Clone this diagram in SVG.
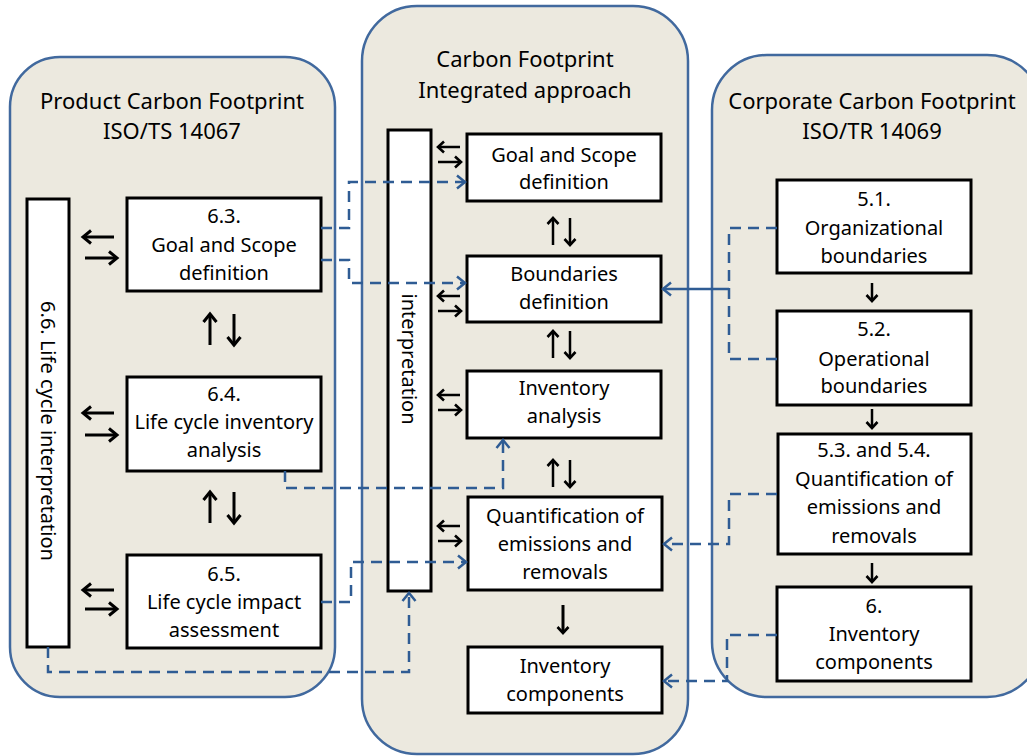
<svg xmlns="http://www.w3.org/2000/svg" width="1027" height="756" viewBox="0 0 1027 756">
<defs>
<style>
.panel{fill:#ECE9DF;stroke:#41699E;stroke-width:2.5}
.box{fill:#FFFFFF;stroke:#000000;stroke-width:3}
.t{font-family:"Noto Sans","Open Sans",sans-serif;font-size:20px;fill:#000;text-anchor:middle}
.title{font-family:"Noto Sans","Open Sans",sans-serif;font-size:22px;fill:#000;text-anchor:middle}
.dash{fill:none;stroke:#2F5C94;stroke-width:2.5;stroke-dasharray:11 7}
.solid{fill:none;stroke:#2F5C94;stroke-width:2.5}
.blk{fill:none;stroke:#000;stroke-width:3}
.blks{fill:none;stroke:#000;stroke-width:2.5}
</style>
<marker id="bh" markerUnits="userSpaceOnUse" markerWidth="14" markerHeight="16" refX="11" refY="8" orient="auto">
<path d="M3,1.5 L11,8 L3,14.5" fill="none" stroke="#2F5C94" stroke-width="2.5"/>
</marker>
<marker id="kh" markerUnits="userSpaceOnUse" markerWidth="14" markerHeight="16" refX="11" refY="8" orient="auto">
<path d="M3,1.5 L11,8 L3,14.5" fill="none" stroke="#000" stroke-width="3"/>
</marker>
<marker id="ks" markerUnits="userSpaceOnUse" markerWidth="12" markerHeight="14" refX="9" refY="7" orient="auto">
<path d="M3,1.5 L9,7 L3,12.5" fill="none" stroke="#000" stroke-width="2.6"/>
</marker>
</defs>

<g id="panel-product">
<rect class="panel" x="10" y="57" width="325" height="640" rx="50"/>
<text class="title" x="172" y="109">Product Carbon Footprint</text>
<text class="title" x="172" y="139">ISO/TS 14067</text>
</g>
<g id="panel-integrated">
<rect class="panel" x="362" y="6" width="326" height="748" rx="55"/>
<text class="title" x="525" y="67">Carbon Footprint</text>
<text class="title" x="525" y="98">Integrated approach</text>
</g>
<g id="panel-corporate">
<rect class="panel" x="712" y="55" width="330" height="642" rx="55"/>
<text class="title" x="872" y="109">Corporate Carbon Footprint</text>
<text class="title" x="872" y="139">ISO/TR 14069</text>
</g>

<g id="node-66">
<rect class="box" x="27" y="199" width="42" height="448"/>
<text class="t" transform="translate(48,431) rotate(90)" y="7">6.6. Life cycle interpretation</text>
</g>
<g id="node-63">
<rect class="box" x="127" y="198" width="194" height="93"/>
<text class="t" x="224" y="223">6.3.</text>
<text class="t" x="224" y="252">Goal and Scope</text>
<text class="t" x="224" y="280">definition</text>
</g>
<g id="node-64">
<rect class="box" x="127" y="377" width="194" height="94"/>
<text class="t" x="224" y="401">6.4.</text>
<text class="t" x="224" y="429">Life cycle inventory</text>
<text class="t" x="224" y="457">analysis</text>
</g>
<g id="node-65">
<rect class="box" x="127" y="555" width="194" height="93"/>
<text class="t" x="224" y="581">6.5.</text>
<text class="t" x="224" y="609">Life cycle impact</text>
<text class="t" x="224" y="637">assessment</text>
</g>

<g id="node-interp">
<rect class="box" x="388" y="130" width="43" height="461"/>
<text class="t" transform="translate(409,359) rotate(90)" y="7">interpretation</text>
</g>
<g id="node-goal">
<rect class="box" x="467" y="134" width="194" height="67"/>
<text class="t" x="564" y="162">Goal and Scope</text>
<text class="t" x="564" y="189">definition</text>
</g>
<g id="node-bound">
<rect class="box" x="467" y="256" width="194" height="66"/>
<text class="t" x="564" y="281">Boundaries</text>
<text class="t" x="564" y="309">definition</text>
</g>
<g id="node-inv">
<rect class="box" x="467" y="371" width="194" height="67"/>
<text class="t" x="564" y="395">Inventory</text>
<text class="t" x="564" y="423">analysis</text>
</g>
<g id="node-quant">
<rect class="box" x="468" y="497" width="194" height="93"/>
<text class="t" x="565" y="523">Quantification of</text>
<text class="t" x="565" y="551">emissions and</text>
<text class="t" x="565" y="579">removals</text>
</g>
<g id="node-invcomp">
<rect class="box" x="468" y="647" width="194" height="66"/>
<text class="t" x="565" y="673">Inventory</text>
<text class="t" x="565" y="701">components</text>
</g>

<g id="node-51">
<rect class="box" x="777" y="180" width="194" height="93"/>
<text class="t" x="874" y="206">5.1.</text>
<text class="t" x="874" y="235">Organizational</text>
<text class="t" x="874" y="263">boundaries</text>
</g>
<g id="node-52">
<rect class="box" x="777" y="311" width="194" height="94"/>
<text class="t" x="874" y="336">5.2.</text>
<text class="t" x="874" y="366">Operational</text>
<text class="t" x="874" y="393">boundaries</text>
</g>
<g id="node-5354">
<rect class="box" x="778" y="434" width="193" height="120"/>
<text class="t" x="874" y="457">5.3. and 5.4.</text>
<text class="t" x="874" y="486">Quantification of</text>
<text class="t" x="874" y="514">emissions and</text>
<text class="t" x="874" y="543">removals</text>
</g>
<g id="node-6">
<rect class="box" x="777" y="587" width="194" height="94"/>
<text class="t" x="874" y="613">6.</text>
<text class="t" x="874" y="641">Inventory</text>
<text class="t" x="874" y="669">components</text>
</g>

<g id="connectors">
<path class="dash" d="M321,228 H349 V182 H465" marker-end="url(#bh)"/>
<path class="dash" d="M321,260 H349 V283 H465" marker-end="url(#bh)"/>
<path class="dash" d="M285,471 V488 H503 V440" marker-end="url(#bh)"/>
<path class="dash" d="M321,602 H351 V562 H466" marker-end="url(#bh)"/>
<path class="dash" d="M48,647 V672 H409 V593" marker-end="url(#bh)"/>
<path class="dash" d="M777,228 H729 V359 H777"/>
<path class="solid" d="M729,289 H663" marker-end="url(#bh)"/>
<path class="dash" d="M777,494 H729 V544 H664" marker-end="url(#bh)"/>
<path class="dash" d="M777,635 H727 V681 H664" marker-end="url(#bh)"/>

<path class="blk" d="M114,237 H83" marker-end="url(#kh)"/>
<path class="blk" d="M85,258 H117" marker-end="url(#kh)"/>
<path class="blk" d="M114,413 H83" marker-end="url(#kh)"/>
<path class="blk" d="M85,435 H117" marker-end="url(#kh)"/>
<path class="blk" d="M114,590 H83" marker-end="url(#kh)"/>
<path class="blk" d="M85,609 H117" marker-end="url(#kh)"/>
<path class="blk" d="M210,345 V314" marker-end="url(#kh)"/>
<path class="blk" d="M234,314 V345" marker-end="url(#kh)"/>
<path class="blk" d="M210,523 V492" marker-end="url(#kh)"/>
<path class="blk" d="M234,492 V523" marker-end="url(#kh)"/>

<path class="blks" d="M460,147 H438" marker-end="url(#ks)"/>
<path class="blks" d="M438,162 H461" marker-end="url(#ks)"/>
<path class="blks" d="M460,296 H438" marker-end="url(#ks)"/>
<path class="blks" d="M438,311 H461" marker-end="url(#ks)"/>
<path class="blks" d="M460,395 H438" marker-end="url(#ks)"/>
<path class="blks" d="M438,410 H461" marker-end="url(#ks)"/>
<path class="blks" d="M460,526 H438" marker-end="url(#ks)"/>
<path class="blks" d="M438,541 H461" marker-end="url(#ks)"/>
<path class="blks" d="M553,245 V218" marker-end="url(#ks)"/>
<path class="blks" d="M570,218 V245" marker-end="url(#ks)"/>
<path class="blks" d="M553,358 V331" marker-end="url(#ks)"/>
<path class="blks" d="M570,331 V358" marker-end="url(#ks)"/>
<path class="blks" d="M553,487 V460" marker-end="url(#ks)"/>
<path class="blks" d="M570,460 V487" marker-end="url(#ks)"/>
<path class="blk" d="M563,605 V633" marker-end="url(#ks)"/>

<path class="blks" d="M872,283 V301" marker-end="url(#ks)"/>
<path class="blks" d="M872,409 V428" marker-end="url(#ks)"/>
<path class="blks" d="M872,563 V582" marker-end="url(#ks)"/>
</g>
</svg>
